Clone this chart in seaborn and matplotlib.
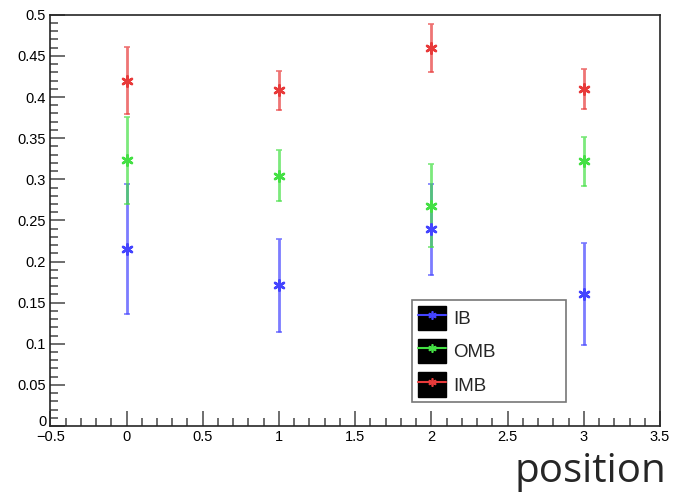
import numpy as np
import pandas as pd
import seaborn as sns
import matplotlib.pyplot as plt
from matplotlib.lines import Line2D
from matplotlib.patches import Patch
from matplotlib.legend_handler import HandlerTuple
from matplotlib.ticker import MultipleLocator

positions = [0, 1, 2, 3]
ib = [0.215, 0.171, 0.239, 0.160]
ib_err = [0.079, 0.057, 0.055, 0.062]
omb = [0.323, 0.304, 0.268, 0.322]
omb_err = [0.053, 0.031, 0.050, 0.030]
imb = [0.420, 0.408, 0.460, 0.410]
imb_err = [0.041, 0.024, 0.029, 0.024]

series = {
    'IB': (ib, ib_err, '#4444ff'),
    'OMB': (omb, omb_err, '#44e044'),
    'IMB': (imb, imb_err, '#e83a3a'),
}

sns.set_style("ticks")
plt.rcParams['font.family'] = ['Liberation Sans', 'DejaVu Sans']

fig = plt.figure(figsize=(6.89, 4.92), dpi=100)
ax = fig.add_axes([0.073, 0.134, 0.885, 0.836])

star = (6, 2, 0)
handles = []
for name, (vals, errs, col) in series.items():
    df = pd.DataFrame({'position': positions, 'value': vals})
    ax.errorbar(df['position'], df['value'], yerr=errs, fmt='none',
                ecolor=col, elinewidth=2, capsize=2.2, capthick=1.2, alpha=0.7, zorder=2)
    sns.scatterplot(data=df, x='position', y='value', ax=ax, color=col,
                    marker=star, s=55, linewidth=1.8, edgecolor=col, zorder=3)
    line = Line2D([], [], color=col, lw=1.5, marker=star, markersize=6,
                  markeredgewidth=1.2)
    handles.append((Patch(facecolor='black', edgecolor='black'), line))

ax.set_xlim(-0.5, 3.5)
ax.set_ylim(0, 0.5)
ax.xaxis.set_major_locator(MultipleLocator(0.5))
ax.xaxis.set_minor_locator(MultipleLocator(0.1))
ax.yaxis.set_major_locator(MultipleLocator(0.05))
ax.yaxis.set_minor_locator(MultipleLocator(0.01))
ax.set_yticks(np.round(np.arange(0, 0.501, 0.05), 2))
ax.set_yticklabels(['0', '0.05', '0.1', '0.15', '0.2', '0.25', '0.3', '0.35', '0.4', '0.45', '0.5'])
ax.set_xticks(np.arange(-0.5, 3.51, 0.5))
ax.set_xticklabels(['\u22120.5', '0', '0.5', '1', '1.5', '2', '2.5', '3', '3.5'])
ax.tick_params(which='major', direction='in', length=11, width=1.2, labelsize=10.5, pad=3,
               colors='#555555', labelcolor='black')
ax.tick_params(which='minor', direction='in', length=6, width=1.2, colors='#555555')
# lift the y "0" a little, as in the reference, so it clears the x "-0.5"
ax.get_yticklabels()[0].set_va('baseline')
for sp in ax.spines.values():
    sp.set_linewidth(1.2)
ax.set_xlabel('')
ax.set_ylabel('')

leg = ax.legend(handles, list(series.keys()), handler_map={tuple: HandlerTuple(ndivide=1)},
                loc='lower left', bbox_to_anchor=(0.594, 0.058, 0.251, 0.256), mode='expand',
                borderaxespad=0, frameon=True, fancybox=False, fontsize=13.5,
                handlelength=1.5, handleheight=1.6,
                labelspacing=0.5, borderpad=0.3, handletextpad=0.35)
leg.get_frame().set_edgecolor('#555555')
leg.get_frame().set_linewidth(1.2)

fig.text(0.967, 0.0, 'position', ha='right', va='bottom', fontsize=29, family='Open Sans')

fig.savefig('out.png', dpi=100)
